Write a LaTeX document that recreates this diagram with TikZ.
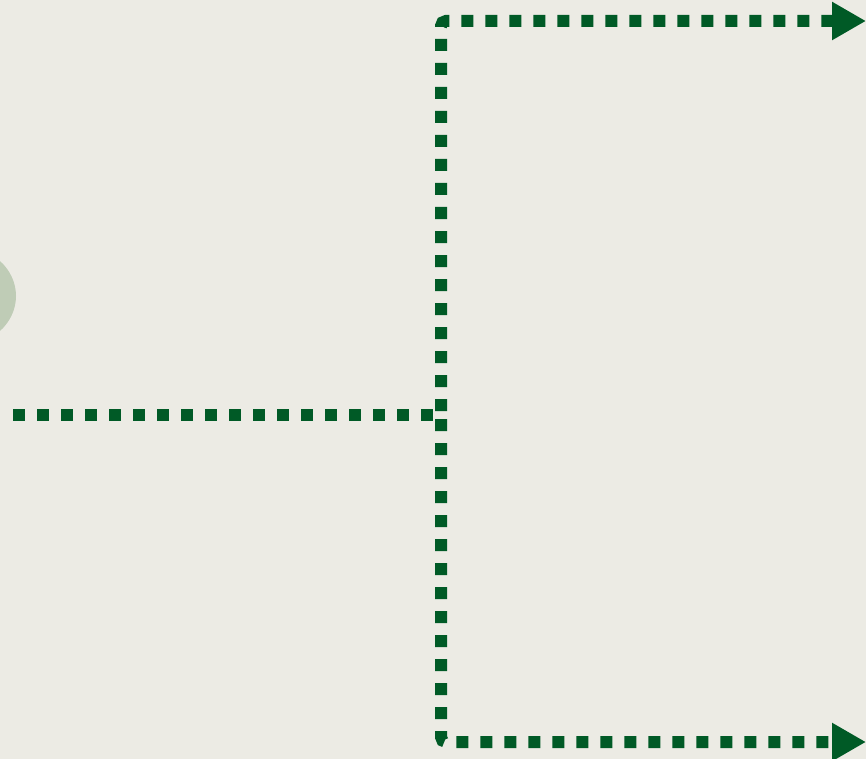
\documentclass[tikz,border=0pt]{standalone}
\usepackage{xcolor}
\usepackage{tikz}
\usetikzlibrary{arrows.meta,shapes.geometric}
\definecolor{bgpaper}{HTML}{ECEBE4}
\definecolor{flowgreen}{HTML}{005A26}
\definecolor{blobgreen}{HTML}{BFCCB6}

\begin{document}
\begin{tikzpicture}[x=1pt, y=-1pt,
  flow/.style={draw=flowgreen, line width=12pt, dash pattern=on 12pt off 12pt, rounded corners=5pt},
  flowtip/.style={-{Triangle[length=34pt,width=36pt]}},
  blob/.style={ellipse, fill=blobgreen, minimum width=112pt, minimum height=100pt, inner sep=0pt}]

% Canvas with the reference margins
\fill[bgpaper] (0,0) rectangle (866,759);
\useasboundingbox (0,0) rectangle (866,759);

% Source shape, mostly cut off at the left edge
\node[blob] (source) at (-40,296) {};

% Free ends and the split point
\coordinate (inlet) at (13,415);
\coordinate (split) at (441,415);
\coordinate (uptarget) at (866,21);
\coordinate (downtarget) at (866,742);

% Step 1: incoming line
\draw[flow, dash phase=0pt] (inlet) -- (split);

% Step 2: the two branches with arrow heads
\draw[flow, flowtip, dash phase=20pt] (split) |- (uptarget);
\draw[flow, flowtip, dash phase=20pt] (split) |- (downtarget);

\end{tikzpicture}
\end{document}
